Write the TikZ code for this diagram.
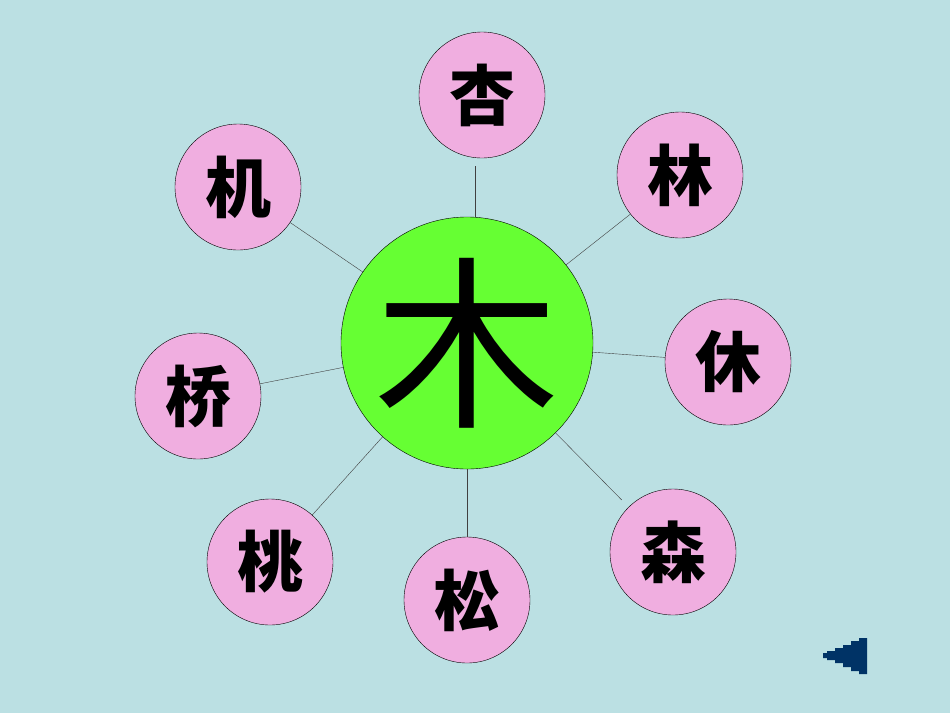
\documentclass[tikz,border=0pt]{standalone}
\usepackage{fontspec}
\usepackage{tikz}
\newfontfamily\cjk{Noto Sans CJK SC}
\definecolor{bgcol}{HTML}{BBE0E3}
\definecolor{pinkcol}{HTML}{F0AEE0}
\definecolor{greencol}{HTML}{66FF33}
\definecolor{navycol}{HTML}{003366}
\tikzset{
	leaf/.style={circle, draw=black, fill=pinkcol, minimum size=126pt, inner sep=0pt, font=\cjk\fontsize{66}{66}\selectfont\bfseries},
	hub/.style={circle, draw=black, fill=greencol, minimum size=252pt, inner sep=0pt, font=\cjk\fontsize{185}{185}\selectfont},
	spoke/.style={draw=black!75, thin}
}

\begin{document}
\begin{tikzpicture}[x=1pt,y=-1pt]
		% draw the background
		\fill [bgcol] (0,0) rectangle (950,713);
		\useasboundingbox (0,0) rectangle (950,713);
		
		\node [hub] (mu) at (467,343) {木};
		\node [leaf] (xing) at (482,95) {杏};
		\node [leaf] (lin) at (680,175) {林};
		\node [leaf] (xiu) at (728,362) {休};
		\node [leaf] (sen) at (673,552) {森};
		\node [leaf] (song) at (467,600) {松};
		\node [leaf] (tao) at (270,562) {桃};
		\node [leaf] (qiao) at (198,396) {桥};
		\node [leaf] (ji) at (238,187) {机};
		
		% draw the spokes
		\draw [spoke, shorten >=8pt] (mu.north -| 475,0) -- (xing.south -| 475,0);
		\draw [spoke] (mu) -- (lin);
		\draw [spoke] (mu) -- (xiu);
		\draw [spoke, shorten >=10pt] (mu) -- (sen);
		\draw [spoke] (mu.south -| 467,0) -- (song);
		\draw [spoke] (mu) -- (tao);
		\draw [spoke] (mu) -- (qiao);
		\draw [spoke] (mu) -- (ji);
		
		% back button
		\fill [navycol] (823,653) -- (827,653) |- (835,651) |- (843,648) |- (851,645) |- (859,641) |- (867,638)
			-- (867,674) -| (859,671) -| (851,667) -| (843,663) -| (835,660) -| (827,658) -| (823,658) -- cycle;
	\end{tikzpicture}
\end{document}
